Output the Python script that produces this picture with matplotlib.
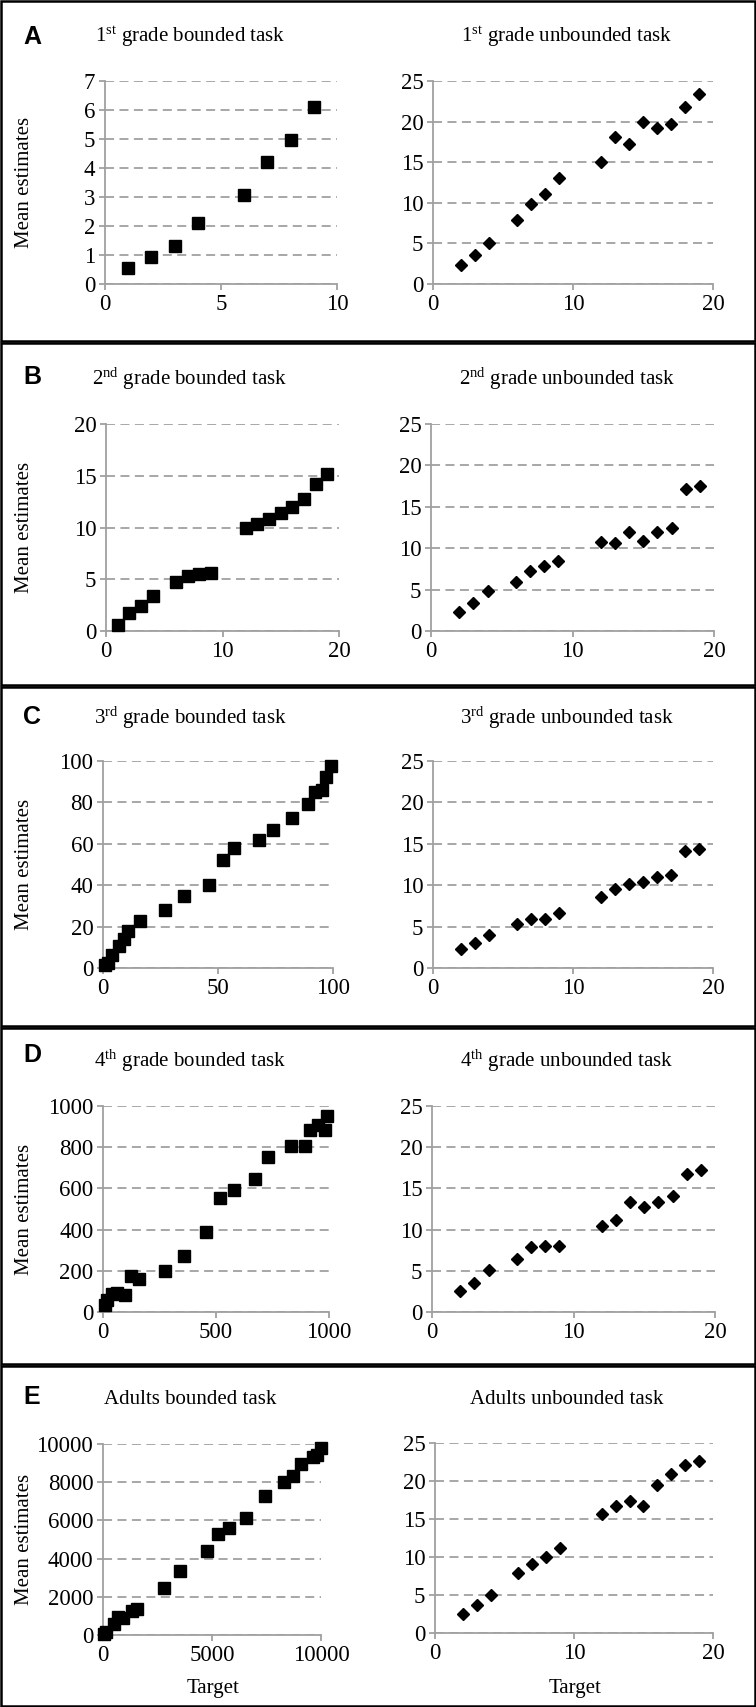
import numpy as np
import matplotlib
matplotlib.use('Agg')
import matplotlib.pyplot as plt
from matplotlib.patches import Rectangle

plt.rcParams['font.family'] = ['Liberation Serif', 'DejaVu Serif']
plt.rcParams['mathtext.fontset'] = 'custom'
plt.rcParams['mathtext.rm'] = 'Liberation Serif'
plt.rcParams['mathtext.it'] = 'Liberation Serif:italic'

# targets of the unbounded task (same for every group)
unb_x = [2, 3, 4, 6, 7, 8, 9, 12, 13, 14, 15, 16, 17, 18, 19]

# A - 1st grade
g1_b_x = [1, 2, 3, 4, 6, 7, 8, 9]
g1_b_y = [0.54, 0.94, 1.31, 2.09, 3.07, 4.19, 4.95, 6.11]
g1_u_y = [2.3, 3.6, 5.0, 7.9, 9.8, 11.1, 13.0, 15.0, 18.1, 17.3, 19.9, 19.2, 19.7, 21.8, 23.4]

# B - 2nd grade
g2_b_x = [1, 2, 3, 4, 6, 7, 8, 9, 12, 13, 14, 15, 16, 17, 18, 19]
g2_b_y = [0.55, 1.7, 2.4, 3.4, 4.7, 5.27, 5.46, 5.65, 9.95, 10.34, 10.82, 11.37,
          11.99, 12.8, 14.2, 15.2]
g2_u_y = [2.3, 3.43, 4.8, 5.94, 7.27, 7.84, 8.44, 10.7, 10.6, 11.9, 10.86, 11.9,
          12.48, 17.16, 17.5]

# C - 3rd grade
g3_b_x = [1, 2, 4, 7, 9, 11, 16, 27, 35, 46, 52, 57, 68, 74, 82, 89, 92, 95, 97, 99]
g3_b_y = [1.5, 2.5, 6.5, 10.5, 14, 18, 22.5, 28, 35, 40, 52, 58, 62, 66.5, 72.5,
          79, 85, 86, 92.5, 97.5]
g3_u_y = [2.3, 3.0, 4.0, 5.35, 5.9, 5.9, 6.64, 8.58, 9.58, 10.14, 10.39, 10.95,
          11.27, 14.1, 14.37]

# D - 4th grade
g4_b_x = [7, 18, 41, 62, 96, 122, 159, 273, 357, 457, 516, 580, 671, 730, 833,
          894, 914, 951, 981, 993]
g4_b_y = [32, 60, 87, 92, 81, 173, 161, 197, 271, 390, 552, 594, 648, 752, 806,
          806, 884, 906, 884, 952]
g4_u_y = [2.58, 3.5, 5.08, 6.41, 7.94, 8.06, 8.06, 10.48, 11.13, 13.3, 12.74,
          13.39, 14.1, 16.77, 17.2]

# E - adults
ad_b_x = [40, 130, 505, 704, 919, 1332, 1547, 2818, 3553, 4778, 5253, 5773, 6539,
          7427, 8315, 8729, 9066, 9648, 9801, 10000]
ad_b_y = [60, 170, 576, 925, 873, 1274, 1344, 2461, 3333, 4415, 5288, 5602, 6143,
          7295, 7993, 8342, 8953, 9337, 9400, 9791]
ad_u_y = [2.46, 3.74, 4.97, 7.83, 9.07, 9.95, 11.14, 15.6, 16.77, 17.43, 16.77,
          19.41, 20.95, 22.05, 22.58]

letters = ['A', 'B', 'C', 'D', 'E']
b_titles = [r'1$^{\rm st}$ grade bounded task', r'2$^{\rm nd}$ grade bounded task',
            r'3$^{\rm rd}$ grade bounded task', r'4$^{\rm th}$ grade bounded task',
            'Adults bounded task']
u_titles = [r'1$^{\rm st}$ grade unbounded task', r'2$^{\rm nd}$ grade unbounded task',
            r'3$^{\rm rd}$ grade unbounded task', r'4$^{\rm th}$ grade unbounded task',
            'Adults unbounded task']
b_xs = [g1_b_x, g2_b_x, g3_b_x, g4_b_x, ad_b_x]
b_ys = [g1_b_y, g2_b_y, g3_b_y, g4_b_y, ad_b_y]
u_ys = [g1_u_y, g2_u_y, g3_u_y, g4_u_y, ad_u_y]
b_xmax = [10, 20, 100, 1000, 10000]
b_xstep = [5, 10, 50, 500, 5000]
b_ymax = [7, 20, 100, 1000, 10000]
b_ystep = [1, 5, 20, 200, 2000]

W, H = 756, 1707
fig = plt.figure(figsize=(W / 100, H / 100), dpi=100)

def box(x0, x1, y0, y1):
    return [x0 / W, 1 - y1 / H, (x1 - x0) / W, (y1 - y0) / H]

# pixel boxes of the plot areas
b_boxes = [(105, 337, 81, 284), (106, 339, 424, 631), (103, 333, 761, 968),
           (103, 329, 1106, 1312), (103, 321, 1444, 1635)]
u_boxes = [(433, 713, 81, 284), (431, 714, 424, 631), (433, 713, 761, 968),
           (432, 715, 1106, 1312), (435, 713, 1443, 1633)]
edges = [0, 342, 686, 1027, 1365, 1707]
title_y = [37, 379, 718, 1061, 1400]
letter_y = [37, 377, 717, 1055, 1397]

grey = '#a0a0a0'
fs = 15

def style(ax, xmax, xstep, ymax, ystep):
    ax.set_xlim(0, xmax)
    ax.set_ylim(0, ymax)
    ax.set_xticks(np.arange(0, xmax + 1, xstep))
    ax.set_yticks(np.arange(0, ymax + 1, ystep))
    for s in ['top', 'right']:
        ax.spines[s].set_visible(False)
    for s in ['left', 'bottom']:
        ax.spines[s].set_color(grey)
        ax.spines[s].set_linewidth(1.3)
    ax.tick_params(colors=grey, labelcolor='black', length=4, width=1.3,
                   labelsize=16.5, direction='out', pad=3)
    ax.yaxis.grid(True, color=grey, linestyle=(0, (5, 3)), linewidth=1.3)
    ax.set_axisbelow(True)

for i in range(5):
    ax = fig.add_axes(box(*b_boxes[i]))
    style(ax, b_xmax[i], b_xstep[i], b_ymax[i], b_ystep[i])
    ax.plot(b_xs[i], b_ys[i], 's', color='black', ms=8, clip_on=False, zorder=3)

    ax2 = fig.add_axes(box(*u_boxes[i]))
    style(ax2, 20, 10, 25, 5)
    ax2.plot(unb_x, u_ys[i], 'D', color='black', ms=6.3, clip_on=False, zorder=3)

    yc = 1 - (b_boxes[i][2] + b_boxes[i][3]) / 2 / H
    fig.text(25 / W, yc, 'Mean estimates', rotation=90, ha='center', va='center',
             fontsize=fs)
    fig.text(190 / W, 1 - title_y[i] / H, b_titles[i], ha='center', va='center',
             fontsize=fs)
    fig.text(567 / W, 1 - title_y[i] / H, u_titles[i], ha='center', va='center',
             fontsize=fs)
    fig.text(32 / W, 1 - letter_y[i] / H, letters[i], ha='center', va='center',
             fontsize=18, fontweight='bold', family='Liberation Sans')

    # panel frame
    fig.add_artist(Rectangle((1 / W, 1 - (edges[i + 1] - 1) / H), (W - 2) / W,
                             (edges[i + 1] - edges[i] - 2) / H,
                             transform=fig.transFigure, fill=False,
                             edgecolor='black', linewidth=1.8))

fig.text(213 / W, 1 - 1688 / H, 'Target', ha='center', va='center', fontsize=fs)
fig.text(575 / W, 1 - 1688 / H, 'Target', ha='center', va='center', fontsize=fs)

fig.savefig('out.png', dpi=100)
